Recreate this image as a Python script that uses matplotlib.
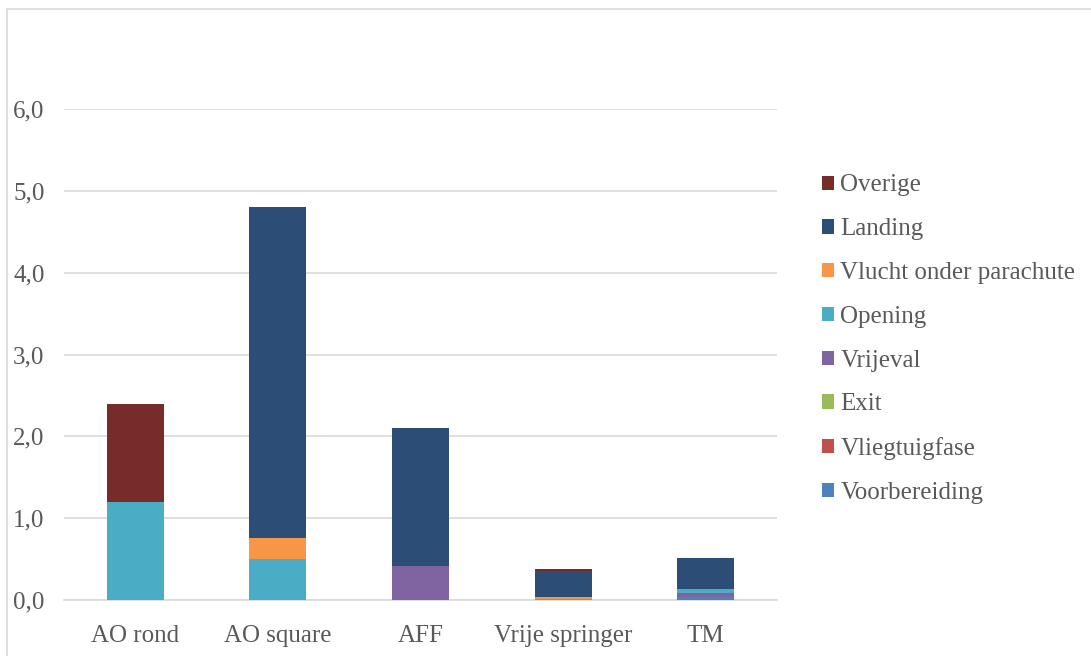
import matplotlib.pyplot as plt
import matplotlib.patches as mpatches
import numpy as np

plt.rcParams['font.family'] = ['Liberation Serif', 'DejaVu Serif']

# data
categories = ['AO rond', 'AO square', 'AFF', 'Vrije springer', 'TM']
phases = ['Voorbereiding', 'Vliegtuigfase', 'Exit', 'Vrijeval', 'Opening',
          'Vlucht onder parachute', 'Landing', 'Overige']
voorbereiding = [0.0, 0.0, 0.0, 0.0, 0.04]
vliegtuigfase = [0.0, 0.0, 0.0, 0.0, 0.0]
exit_ = [0.0, 0.0, 0.0, 0.0, 0.0]
vrijeval = [0.0, 0.0, 0.42, 0.0, 0.05]
opening = [1.20, 0.50, 0.0, 0.01, 0.05]
vlucht = [0.0, 0.26, 0.0, 0.03, 0.0]
landing = [0.0, 4.04, 1.68, 0.31, 0.37]
overige = [1.20, 0.0, 0.0, 0.025, 0.0]
series = [voorbereiding, vliegtuigfase, exit_, vrijeval, opening, vlucht, landing, overige]
colors = ['#4F81BD', '#C0504D', '#9BBB59', '#8064A2', '#4BACC6',
          '#F79646', '#2C4D75', '#772C2A']

W, H = 1091, 656
fig = plt.figure(figsize=(W / 100, H / 100), dpi=100)
ax = fig.add_axes([64 / W, 1 - 600 / H, (777 - 64) / W, (600 - 109) / H])

# chart border
fig.patches.append(mpatches.Rectangle((7 / W, -0.01), 1.0, 1 - 9 / H + 0.01,
                                      transform=fig.transFigure, fill=False,
                                      edgecolor='#D9D9D9', linewidth=1.2))

x = np.arange(len(categories))
bottom = np.zeros(len(categories))
handles = []
for name, vals, c in zip(phases, series, colors):
    vals = np.array(vals)
    b = ax.bar(x, vals, 0.4, bottom=bottom, color=c, label=name, zorder=3)
    handles.append(b)
    bottom += vals

ax.set_xlim(-0.5, 4.5)
ax.set_ylim(0, 6.0)
ax.set_yticks(np.arange(0, 6.5, 1.0))
ax.set_yticklabels([f'{v:.1f}'.replace('.', ',') for v in np.arange(0, 6.5, 1.0)])
ax.set_xticks(x)
ax.set_xticklabels(categories)
ax.yaxis.grid(True, color='#D9D9D9', linewidth=1.2, zorder=0)
for s in ['top', 'right', 'left']:
    ax.spines[s].set_visible(False)
ax.spines['bottom'].set_color('#D9D9D9')
ax.spines['bottom'].set_linewidth(1.2)
ax.tick_params(axis='both', length=0, labelsize=18, colors='#595959')
ax.tick_params(axis='y', pad=14)
ax.tick_params(axis='x', pad=18)

leg = fig.legend(handles[::-1], phases[::-1], loc='upper left',
                 bbox_to_anchor=(799 / W, 1 - 152 / H), frameon=False,
                 fontsize=18, labelspacing=0.87, handlelength=0.5,
                 handleheight=0.5, handletextpad=0.25)
for t in leg.get_texts():
    t.set_color('#595959')

fig.savefig('out.png', dpi=100)
